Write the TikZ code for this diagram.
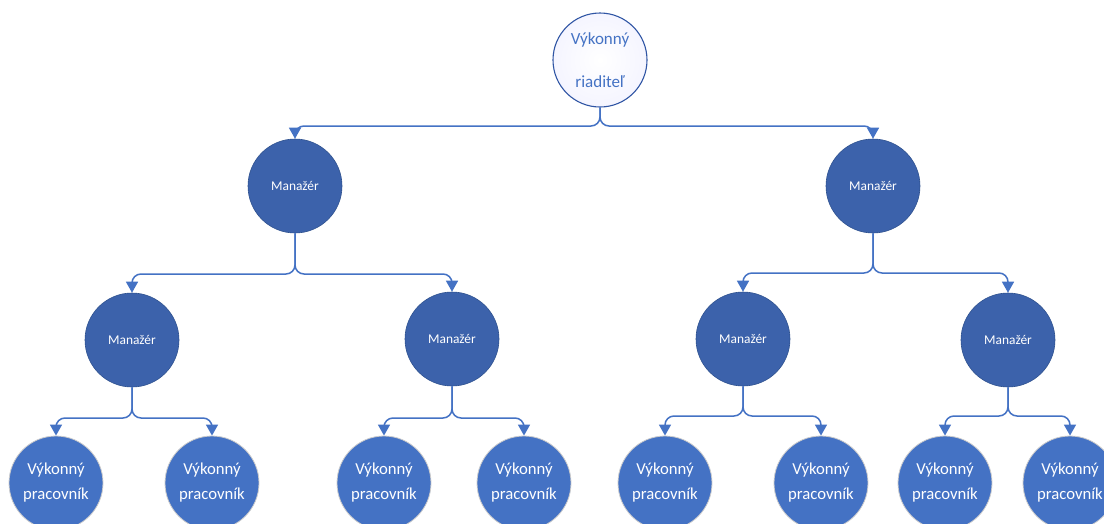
\documentclass[tikz,border=0pt]{standalone}
\usepackage{fontspec}
\setmainfont{Carlito}
\usetikzlibrary{arrows.meta}
\definecolor{lineblue}{HTML}{4472C4}
\definecolor{mgrfill}{HTML}{3C62AB}
\definecolor{mgrdraw}{HTML}{2F528F}
\definecolor{wrkfill}{HTML}{4472C4}
\definecolor{topdraw}{HTML}{2F55A4}
\tikzset{
  topnode/.style={circle, minimum size=94pt, inner sep=0pt, draw=topdraw, line width=1.1pt,
    inner color=white, outer color=blue!4, text=lineblue, align=center,
    font=\fontsize{17}{43}\selectfont},
  mgr/.style={circle, minimum size=94pt, inner sep=0pt, draw=mgrdraw, line width=0.6pt,
    fill=mgrfill, text=white, font=\fontsize{13.4}{16}\selectfont},
  wrk/.style={circle, minimum size=94pt, inner sep=0pt, draw=gray!40, line width=0.8pt,
    fill=wrkfill, text=white, align=center, font=\fontsize{16.7}{25}\selectfont},
  conn/.style={draw=lineblue, line width=1.5pt, rounded corners=9pt,
    -{Triangle[width=12pt,length=11pt]}}
}
\begin{document}
\begin{tikzpicture}[x=1pt,y=-1pt]
\useasboundingbox (0,0) rectangle (1104,523);
% nodes
\node[topnode] (ceo) at (600,60) {Výkonný\\riaditeľ};
\node[mgr] (m1) at (295,186) {Manažér};
\node[mgr] (m2) at (873,186) {Manažér};
\node[mgr] (m11) at (132,340) {Manažér};
\node[mgr] (m12) at (452,339) {Manažér};
\node[mgr] (m21) at (743,339) {Manažér};
\node[mgr] (m22) at (1008,340) {Manažér};
\node[wrk] (w1) at (56,483) {Výkonný\\pracovník};
\node[wrk] (w2) at (212,483) {Výkonný\\pracovník};
\node[wrk] (w3) at (384,483) {Výkonný\\pracovník};
\node[wrk] (w4) at (524,483) {Výkonný\\pracovník};
\node[wrk] (w5) at (665,483) {Výkonný\\pracovník};
\node[wrk] (w6) at (821,483) {Výkonný\\pracovník};
\node[wrk] (w7) at (945,483) {Výkonný\\pracovník};
\node[wrk] (w8) at (1070,483) {Výkonný\\pracovník};
% connectors
\foreach \p/\c/\h in {ceo/m1/126, ceo/m2/126,
  m1/m11/274, m1/m12/274, m2/m21/273, m2/m22/273,
  m11/w1/418, m11/w2/418, m12/w3/418, m12/w4/418,
  m21/w5/416, m21/w6/416, m22/w7/416, m22/w8/416}{
  \draw[conn] (\p.south) -- ([yshift=0pt]\p.south |- 0,\h) -| (\c.north);
}
\end{tikzpicture}
\end{document}
